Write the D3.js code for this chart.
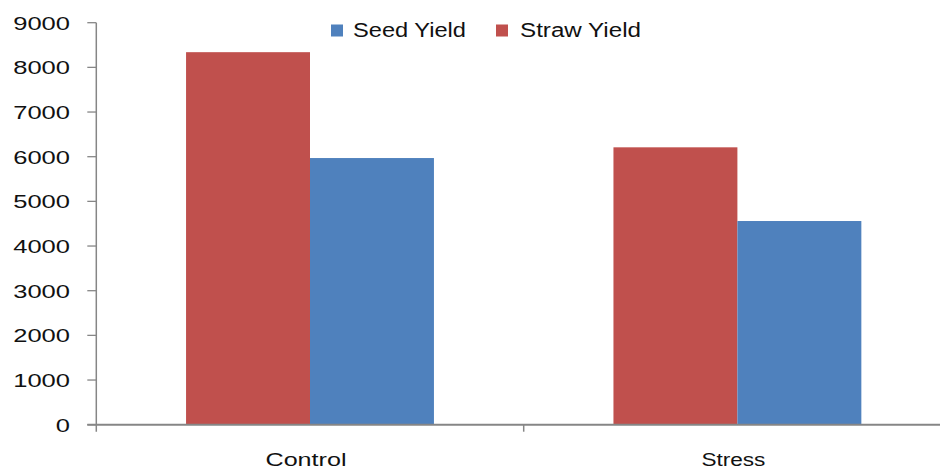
<!DOCTYPE html>
<html><head><meta charset="utf-8">
<script src="https://cdn.jsdelivr.net/npm/d3@7"></script>
<style>body{margin:0;background:#fff}svg{display:block}</style>
</head><body>
<svg id="c" width="940" height="469"></svg>
<script>
const categories = ["Control", "Stress"];
const seriesNames = ["Straw Yield", "Seed Yield"];
const strawYield = [8340, 6210];
const seedYield = [5970, 4560];
const legendOrder = ["Seed Yield", "Straw Yield"];
const yTicks = [0, 1000, 2000, 3000, 4000, 5000, 6000, 7000, 8000, 9000];

const colors = {"Straw Yield": "#C0504D", "Seed Yield": "#4F81BD"};
const values = {"Straw Yield": strawYield, "Seed Yield": seedYield};

const svg = d3.select("#c");
const axisColor = "#868686";
const x0 = 96.3, y0 = 424.7;
const bandW = 427.4;

const y = d3.scaleLinear().domain([0, 9000]).range([y0, 22.7]);
const x = d3.scaleBand().domain(categories).range([x0, x0 + bandW * 2]).padding(0);
const xs = d3.scaleBand().domain(seriesNames).range([bandW * 0.21, bandW * 0.79]).padding(0);

// bars
categories.forEach((c, i) => {
  seriesNames.forEach(s => {
    const v = values[s][i];
    svg.append("rect")
      .attr("x", x(c) + xs(s))
      .attr("y", y(v))
      .attr("width", xs.bandwidth())
      .attr("height", y(0) - y(v))
      .attr("fill", colors[s]);
  });
});

// y axis
const yAxis = svg.append("g");
yAxis.append("line").attr("x1", x0).attr("x2", x0).attr("y1", y(9000)).attr("y2", y0 + 7)
  .attr("stroke", axisColor).attr("stroke-width", 1.5);
yTicks.forEach(t => {
  yAxis.append("line").attr("x1", x0 - 9).attr("x2", x0).attr("y1", y(t)).attr("y2", y(t))
    .attr("stroke", axisColor).attr("stroke-width", 1.3);
  const lbl = String(t);
  yAxis.append("text").attr("x", 70).attr("y", y(t) + 7)
    .attr("text-anchor", "end")
    .attr("font-family", "Liberation Sans, Arial, sans-serif")
    .attr("font-size", 19)
    .attr("fill", "#111")
    .attr("textLength", lbl.length * 14.2)
    .attr("lengthAdjust", "spacingAndGlyphs")
    .text(lbl);
});

// x axis
svg.append("line").attr("x1", x0 - 9).attr("x2", 940).attr("y1", y0).attr("y2", y0)
  .attr("stroke", axisColor).attr("stroke-width", 2);
[x0 + bandW].forEach(px => {
  svg.append("line").attr("x1", px).attr("x2", px).attr("y1", y0).attr("y2", y0 + 7)
    .attr("stroke", axisColor).attr("stroke-width", 1.5);
});
const catWidths = {"Control": 81, "Stress": 64};
categories.forEach(c => {
  svg.append("text")
    .attr("x", x(c) + x.bandwidth() / 2 - 4)
    .attr("y", 466)
    .attr("text-anchor", "middle")
    .attr("font-family", "Liberation Sans, Arial, sans-serif")
    .attr("font-size", 18)
    .attr("fill", "#111")
    .attr("textLength", catWidths[c])
    .attr("lengthAdjust", "spacingAndGlyphs")
    .text(c);
});

// legend
const legendPos = [{sx: 331, tx: 353, w: 113}, {sx: 496, tx: 520, w: 121}];
legendOrder.forEach((s, i) => {
  const p = legendPos[i];
  svg.append("rect").attr("x", p.sx).attr("y", 24.5).attr("width", 12).attr("height", 12)
    .attr("fill", colors[s]);
  svg.append("text").attr("x", p.tx).attr("y", 37)
    .attr("font-family", "Liberation Sans, Arial, sans-serif")
    .attr("font-size", 20)
    .attr("fill", "#111")
    .attr("textLength", p.w)
    .attr("lengthAdjust", "spacingAndGlyphs")
    .text(s);
});
</script>
</body></html>
